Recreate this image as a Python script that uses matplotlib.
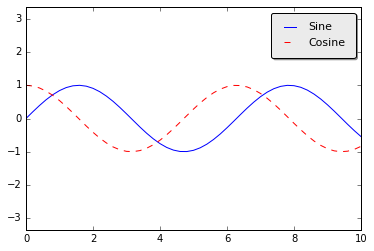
import matplotlib
matplotlib.use("Agg")
import matplotlib.pyplot as plt

plt.style.use('classic')

x = [0.0, 0.2, 0.4, 0.6, 0.8, 1.0, 1.2, 1.4, 1.6, 1.8, 2.0, 2.2, 2.4, 2.6, 2.8, 3.0,
     3.2, 3.4, 3.6, 3.8, 4.0, 4.2, 4.4, 4.6, 4.8, 5.0, 5.2, 5.4, 5.6, 5.8, 6.0, 6.2,
     6.4, 6.6, 6.8, 7.0, 7.2, 7.4, 7.6, 7.8, 8.0, 8.2, 8.4, 8.6, 8.8, 9.0, 9.2, 9.4,
     9.6, 9.8, 10.0]
sine = [0.0, 0.199, 0.389, 0.565, 0.717, 0.841, 0.932, 0.985, 1.0, 0.974, 0.909, 0.808,
        0.675, 0.516, 0.335, 0.141, -0.058, -0.256, -0.443, -0.612, -0.757, -0.872,
        -0.952, -0.994, -0.996, -0.959, -0.883, -0.773, -0.631, -0.465, -0.279, -0.083,
        0.117, 0.312, 0.494, 0.657, 0.794, 0.899, 0.968, 0.999, 0.989, 0.941, 0.855,
        0.734, 0.585, 0.412, 0.223, 0.025, -0.175, -0.366, -0.544]
cosine = [1.0, 0.980, 0.921, 0.825, 0.697, 0.540, 0.362, 0.170, -0.029, -0.227, -0.416,
          -0.589, -0.737, -0.857, -0.942, -0.990, -0.998, -0.967, -0.897, -0.791, -0.654,
          -0.490, -0.307, -0.112, 0.087, 0.284, 0.469, 0.635, 0.776, 0.886, 0.960, 0.997,
          0.993, 0.951, 0.869, 0.754, 0.608, 0.439, 0.252, 0.054, -0.146, -0.338, -0.519,
          -0.680, -0.811, -0.911, -0.975, -1.0, -0.985, -0.930, -0.839]
labels = ['Sine', 'Cosine']

fig = plt.figure(figsize=(374/72, 251/72), dpi=72)
ax = fig.add_axes([26/374, 21/251, 335/374, 223/251])
ax.plot(x, sine, '-', color='blue', label=labels[0])
ax.plot(x, cosine, '--', color='red', label=labels[1])
ax.set_xlim(0, 10)
ax.set_ylim(-3.36, 3.36)
ax.set_yticks([-3, -2, -1, 0, 1, 2, 3])
ax.tick_params(labelsize=10)
leg = ax.legend(loc='upper right', frameon=True, fancybox=True, framealpha=1,
                shadow=True, borderpad=0.9, fontsize=11, handlelength=1.7,
                borderaxespad=0.5)
leg.get_frame().set_facecolor('#ebebeb')
for h, c in zip(leg.get_lines(), ['blue', 'red']):
    h.set_color(c)
fig.savefig('out.png', dpi=72)
